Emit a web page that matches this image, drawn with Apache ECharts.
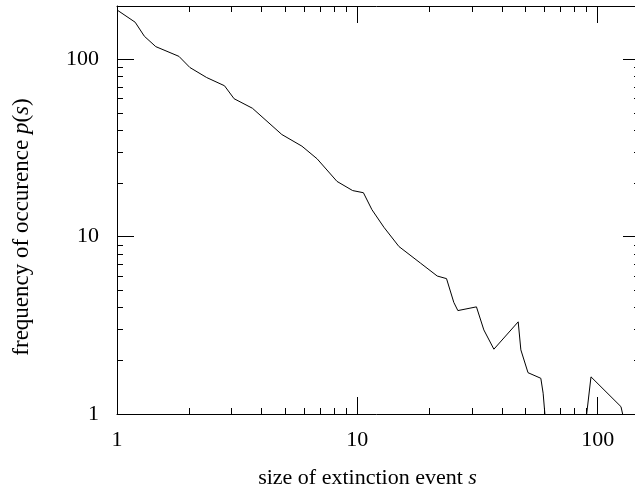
<!DOCTYPE html>
<html>
<head>
<meta charset="utf-8">
<script src="https://cdn.jsdelivr.net/npm/echarts@6/dist/echarts.min.js"></script>
<style>html,body{margin:0;padding:0;background:#fff;}#c{width:635px;height:490px;}</style>
</head>
<body>
<div id="c"></div>
<script>
const sizes = [1, 1.19, 1.3, 1.45, 1.81, 2.01, 2.36, 2.8, 3.07, 3.66, 4.85, 5.88, 6.8, 8.23, 9.56, 10.6, 11.5, 12.9, 14.9, 18.3, 21.5, 23.5, 25.2, 26.2, 31.3, 33.6, 37.0, 46.7, 47.9, 51.3, 58.0, 59.3, 60.3, 60.6, 89.7, 90, 93.8, 125, 127];
const freqs = [190, 162, 135, 118, 104, 90, 79, 71, 60, 53, 37.7, 32.4, 27.5, 20.5, 18.2, 17.7, 14.2, 11.3, 8.8, 7.1, 6.0, 5.8, 4.26, 3.83, 4.02, 2.98, 2.32, 3.31, 2.30, 1.71, 1.59, 1.31, 1.0, 0.3, 0.3, 1.0, 1.62, 1.10, 1.0];
const xMajor = [1, 10, 100];
const xMinor = [2,3,4,5,6,7,8,9,20,30,40,50,60,70,80,90];
const yMajor = [1, 10, 100];
const yMinor = [2,3,4,5,6,7,8,9,20,30,40,50,60,70,80,90,200];
const xRange = [1, 150];
const yRange = [1, 200];

const FONT = 'Liberation Serif';
const FS = 22;
const FTX = 22;
const FTY = 23;
const grid = {left: 117, top: 6, width: 523, height: 408, outerBoundsMode: 'none', containLabel: false};
const lineStyle = {color: '#000', width: 1};
const tickStyle = {color: '#000', width: 1};

function xAx(gridIndex, position, values, len, showLine, labels) {
  return {
    type: 'log', logBase: 10, gridIndex, position, min: xRange[0], max: xRange[1],
    axisLine: {show: showLine, lineStyle},
    axisTick: {show: true, inside: true, length: len, customValues: values, lineStyle: tickStyle},
    axisLabel: labels ? {show: true, customValues: values, fontFamily: FONT, fontSize: FS, color: '#000', margin: 15, formatter: v => String(Math.round(v))} : {show: false},
    splitLine: {show: false}, minorTick: {show: false}, minorSplitLine: {show: false}
  };
}
function yAx(gridIndex, position, values, len, showLine, labels) {
  return {
    type: 'log', logBase: 10, gridIndex, position, min: yRange[0], max: yRange[1],
    axisLine: {show: showLine, lineStyle},
    axisTick: {show: true, inside: true, length: len, customValues: values, lineStyle: tickStyle},
    axisLabel: labels ? {show: true, customValues: values, fontFamily: FONT, fontSize: FS, color: '#000', margin: 18, formatter: v => String(Math.round(v))} : {show: false},
    splitLine: {show: false}, minorTick: {show: false}, minorSplitLine: {show: false}
  };
}

const xb = xAx(0, 'bottom', xMajor, 17, true, true);
xb.name = 'size of extinction event {i|s}';
xb.nameLocation = 'middle';
xb.nameGap = 53;
xb.nameTextStyle = {fontFamily: FONT, fontSize: FTX, color: '#000', padding: [0, 22, 0, 0],
  rich: {i: {fontFamily: FONT, fontSize: FTX, fontStyle: 'italic', color: '#000'}}};
const yl = yAx(0, 'left', yMajor, 17, true, true);
yl.name = 'frequency of occurence {i|p}({i|s})';
yl.nameLocation = 'middle';
yl.nameGap = 84;
yl.nameTextStyle = {fontFamily: FONT, fontSize: FTY, color: '#000', padding: [0, 34, 0, 0],
  rich: {i: {fontFamily: FONT, fontSize: FTY, fontStyle: 'italic', color: '#000'}}};

const option = {
  animation: false,
  backgroundColor: '#fff',
  grid: [grid, Object.assign({}, grid)],
  xAxis: [
    xb,
    xAx(0, 'top', xMajor, 17, true, false),
    xAx(1, 'bottom', xMinor, 6, false, false),
    xAx(1, 'top', xMinor, 6, false, false)
  ],
  yAxis: [
    yl,
    yAx(0, 'right', yMajor, 17, true, false),
    yAx(1, 'left', yMinor, 6, false, false),
    yAx(1, 'right', yMinor, 6, false, false)
  ],
  series: [{
    type: 'line', xAxisIndex: 0, yAxisIndex: 0,
    data: sizes.map((s, i) => [s, freqs[i]]),
    showSymbol: false, symbol: 'none', clip: true,
    lineStyle: {color: '#000', width: 1}
  }]
};
const chart = echarts.init(document.getElementById('c'), null, {renderer: 'canvas'});
chart.setOption(option);
</script>
</body>
</html>
